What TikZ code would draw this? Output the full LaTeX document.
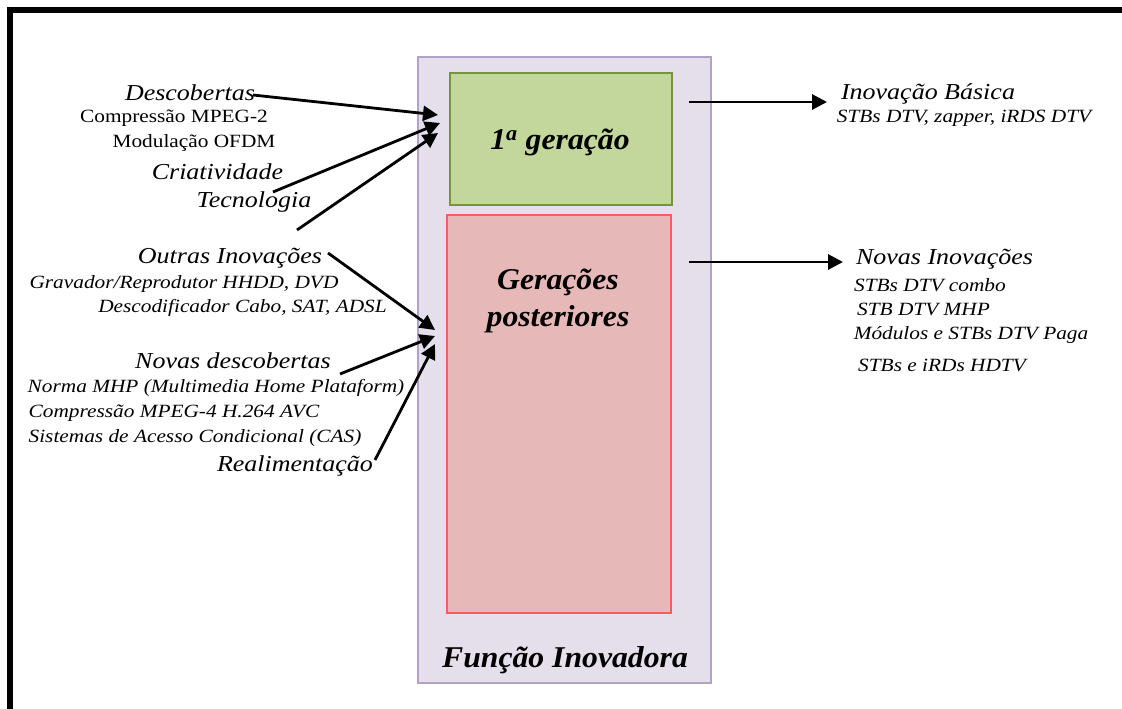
\documentclass[tikz,border=0pt]{standalone}
\usepackage{fontspec}
\setmainfont[FakeStretch=1.14]{Liberation Serif}
\newfontfamily\boxfont[FakeStretch=1.05]{Liberation Serif}
\usetikzlibrary{arrows.meta,calc}
\definecolor{purfill}{HTML}{E5DFEC}
\definecolor{purdraw}{HTML}{B3A2C7}
\definecolor{grfill}{HTML}{C3D69B}
\definecolor{grdraw}{HTML}{77933C}
\definecolor{rdfill}{HTML}{E6B9B8}
\definecolor{rddraw}{HTML}{F85C5C}
\begin{document}
\begin{tikzpicture}[x=1pt,y=-1pt,
  hd/.style={font=\fontsize{22.8}{26}\selectfont\itshape, inner sep=0pt},
  sub/.style={font=\fontsize{18.7}{22}\selectfont, inner sep=0pt},
  subi/.style={font=\fontsize{18.7}{22}\selectfont\itshape, inner sep=0pt},
  boxlbl/.style={font=\boxfont\fontsize{30.2}{37}\selectfont\bfseries\itshape, inner sep=0pt, align=center},
  arr/.style={line width=2.8pt, -{Triangle[length=15pt,width=15pt]}}]
\useasboundingbox (0,0) rectangle (1122,709);
% frame
\draw[line width=6pt] (10,709) -- (10,10) -- (1122,10);
% boxes
\node (outer) [draw=purdraw, fill=purfill, line width=1.5pt, minimum width=293pt, minimum height=626pt, inner sep=0pt] at (564.5,370) {};
\node (gen1) [draw=grdraw, fill=grfill, line width=1.5pt, minimum width=222pt, minimum height=132pt, inner sep=0pt] at (561,139) {};
\node (genp) [draw=rddraw, fill=rdfill, line width=1.5pt, minimum width=224pt, minimum height=398pt, inner sep=0pt] at (559,414) {};
\node (gen1l) [boxlbl] at (560,142) {1\textsuperscript{a} geração};
\node (genpl) [boxlbl] at (558,301) {Gerações\\posteriores};
\node (funcl) [boxlbl] at (565,660) {Função Inovadora};
% left texts
\node (desc) [hd] at (190,93) {Descobertas};
\node (comp2) [sub] at (174,118) {Compressão MPEG-2};
\node (modul) [sub] at (194,143) {Modulação OFDM};
\node (criat) [hd] at (217.5,172) {Criatividade};
\node (tecno) [hd] at (254,202) {Tecnologia};
\node (outras) [hd] at (230,258) {Outras Inovações};
\node (grav) [subi] at (184,284) {Gravador/Reprodutor HHDD, DVD};
\node (descod) [subi] at (242.5,308) {Descodificador Cabo, SAT, ADSL};
\node (novasd) [hd] at (233,361) {Novas descobertas};
\node (norma) [subi] at (216,388) {Norma MHP (Multimedia Home Plataform)};
\node (comp4) [subi] at (174,413) {Compressão MPEG-4 H.264 AVC};
\node (sist) [subi] at (195,438) {Sistemas de Acesso Condicional (CAS)};
\node (realim) [hd] at (295,466) {Realimentação};
% right texts
\node (inovb) [hd] at (928,94) {Inovação Básica};
\node (stb1) [subi] at (964,118) {STBs DTV, zapper, iRDS DTV};
\node (novasi) [hd] at (944.5,259) {Novas Inovações};
\node (ra) [subi] at (930,285) {STBs DTV combo};
\node (rb) [subi] at (923.5,309) {STB DTV MHP};
\node (rc) [subi] at (971,335) {Módulos e STBs DTV Paga};
\node (rd) [subi] at (942,365) {STBs e iRDs HDTV};
% connector ends
\coordinate (s1) at (253,95);  \coordinate (t1) at (438,115);
\coordinate (s2) at (273,192); \coordinate (t2) at (440,123);
\coordinate (s3) at (297,230); \coordinate (t3) at (438,133);
\coordinate (s4) at (328,253); \coordinate (t4) at (435,330);
\coordinate (s5) at (340,374); \coordinate (t5) at (435,336);
\coordinate (s6) at (375,460); \coordinate (t6) at (435,344);
\coordinate (s7) at (689,102); \coordinate (t7) at (827,102);
\coordinate (s8) at (689,262); \coordinate (t8) at (843,262);
\draw[arr] (s1) -- (t1);
\draw[arr] (s2) -- (t2);
\draw[arr] (s3) -- (t3);
\draw[arr] (s4) -- (t4);
\draw[arr] (s5) -- (t5);
\draw[arr] (s6) -- (t6);
\draw[arr] (s7) -- (t7);
\draw[arr] (s8) -- (t8);
\end{tikzpicture}
\end{document}
